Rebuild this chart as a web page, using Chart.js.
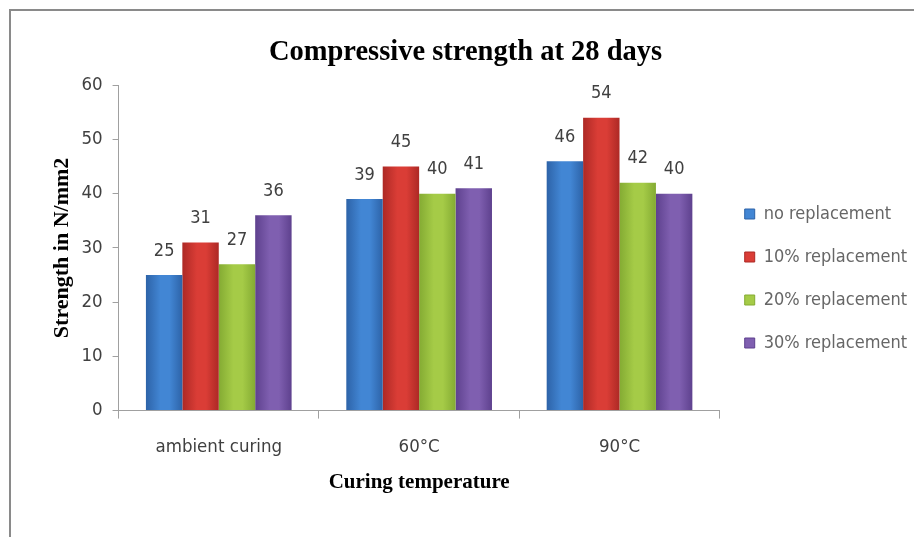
<!DOCTYPE html>
<html>
<head>
<meta charset="utf-8">
<script src="https://cdn.jsdelivr.net/npm/chart.js"></script>
<style>
  html, body { margin: 0; padding: 0; background: #fff; }
  #wrap { position: relative; width: 914px; height: 537px; overflow: hidden; }
  #frame { position: absolute; left: 9px; top: 9px; width: 940px; height: 560px;
           border-left: 2px solid #8a8a8a; border-top: 2px solid #8a8a8a; pointer-events: none; }
  canvas { position: absolute; left: 0; top: 0; }
</style>
</head>
<body>
<div id="wrap">
  <canvas id="strengthChart" width="914" height="537"></canvas>
  <div id="frame"></div>
</div>

<script>
  // data
  const categories = ['ambient curing', '60°C', '90°C'];
  const seriesNames = ['no replacement', '10% replacement', '20% replacement', '30% replacement'];
  const noReplacement = [25, 39, 46];
  const tenPercent = [31, 45, 54];
  const twentyPercent = [27, 40, 42];
  const thirtyPercent = [36, 41, 40];
  const yTicks = [0, 10, 20, 30, 40, 50, 60];

  // [edge, middle] colours for the shaded bars
  const shades = [
    ['#2d63a8', '#4286d4'],
    ['#ad2925', '#da3d36'],
    ['#84ab33', '#a5cb47'],
    ['#5e418e', '#7f5fb0']
  ];

  const narrow = "'Liberation Sans Narrow', 'DejaVu Sans Condensed', sans-serif";
  const serif = "'Liberation Serif', 'DejaVu Serif', serif";

  function barFill(i) {
    return function (c) {
      const el = c.element;
      if (!el || !isFinite(el.x) || !isFinite(el.width)) return shades[i][1];
      const g = c.chart.ctx.createLinearGradient(el.x - el.width / 2, 0, el.x + el.width / 2, 0);
      g.addColorStop(0, shades[i][0]);
      g.addColorStop(0.4, shades[i][1]);
      g.addColorStop(0.65, shades[i][1]);
      g.addColorStop(1, shades[i][0]);
      return g;
    };
  }

  // value labels above each bar
  const valueLabels = {
    id: 'valueLabels',
    afterDatasetsDraw(chart) {
      const ctx = chart.ctx;
      ctx.save();
      ctx.font = '18px ' + narrow;
      ctx.fillStyle = '#404040';
      ctx.textAlign = 'center';
      ctx.textBaseline = 'middle';
      chart.data.datasets.forEach((ds, di) => {
        chart.getDatasetMeta(di).data.forEach((el, i) => {
          ctx.fillText(ds.data[i], el.x, el.y - 24);
        });
      });
      ctx.restore();
    }
  };

  const seriesValues = [noReplacement, tenPercent, twentyPercent, thirtyPercent];

  const chart = new Chart(document.getElementById('strengthChart'), {
    type: 'bar',
    data: {
      labels: categories,
      datasets: seriesValues.map((vals, i) => ({
        label: seriesNames[i],
        data: vals,
        backgroundColor: barFill(i),
        borderWidth: 0,
        categoryPercentage: 0.727,
        barPercentage: 1
      }))
    },
    options: {
      responsive: false,
      animation: false,
      devicePixelRatio: 1,
      layout: { padding: { left: 14, right: -3, top: 14, bottom: 38 } },
      plugins: {
        title: {
          display: true,
          text: 'Compressive strength at 28 days',
          color: '#000',
          font: { family: serif, size: 28.5, weight: 'bold' },
          padding: { top: 22, bottom: 15 }
        },
        legend: {
          position: 'right',
          title: { display: true, text: ' ', font: { size: 10 }, padding: { top: 16, bottom: 16 } },
          labels: {
            color: '#383838',
            font: { family: narrow, size: 18 },
            boxWidth: 10,
            boxHeight: 10,
            padding: 25,
            generateLabels(chart) {
              return chart.data.datasets.map((ds, i) => ({
                text: ds.label,
                fillStyle: shades[i][1],
                strokeStyle: shades[i][0],
                lineWidth: 1,
                datasetIndex: i
              }));
            }
          }
        },
        tooltip: { enabled: false }
      },
      scales: {
        x: {
          grid: { display: true, drawOnChartArea: false, drawTicks: true, tickLength: 8, color: '#a0a0a0', offset: true },
          border: { color: '#a0a0a0' },
          ticks: { color: '#404040', font: { family: narrow, size: 18.5 }, padding: 17 },
          title: {
            display: true,
            text: 'Curing temperature',
            color: '#000',
            font: { family: serif, size: 21, weight: 'bold' },
            padding: { top: -5 }
          }
        },
        y: {
          min: 0,
          max: 60,
          afterBuildTicks(axis) { axis.ticks = yTicks.map(v => ({ value: v })); },
          grid: { display: true, drawOnChartArea: false, drawTicks: true, tickLength: 6, color: '#a0a0a0' },
          border: { color: '#a0a0a0' },
          ticks: { color: '#404040', font: { family: narrow, size: 18.5 }, padding: 10 },
          title: {
            display: true,
            text: 'Strength in N/mm2',
            color: '#000',
            font: { family: serif, size: 22, weight: 'bold' },
            padding: { top: 35, bottom: -4 }
          }
        }
      }
    },
    plugins: [valueLabels]
  });

  // second pass so the gradients know where each bar sits
  chart.update();
</script>
</body>
</html>
